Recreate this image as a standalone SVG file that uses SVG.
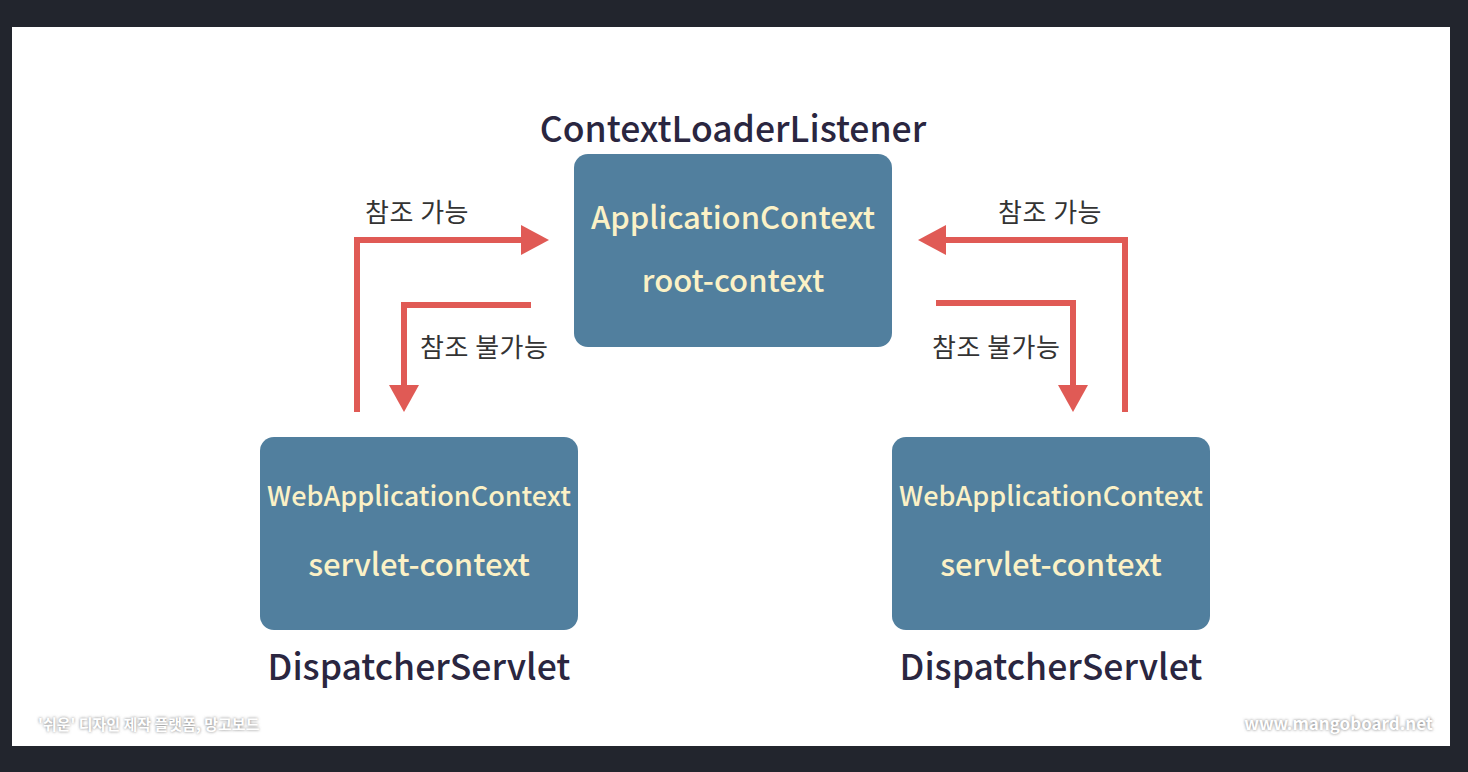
<svg xmlns="http://www.w3.org/2000/svg" width="1468" height="772" viewBox="0 0 1468 772">
<defs>
<style>
.box{fill:#517f9e}
.in{fill:#fbf1c6;font-family:"Noto Sans CJK KR","Noto Sans",sans-serif;font-weight:500;text-anchor:middle}
.lbl{fill:#2a2640;font-family:"Noto Sans CJK KR","Noto Sans",sans-serif;font-weight:500;font-size:35.5px;text-anchor:middle}
.ref{fill:#333;font-family:"Noto Sans CJK KR",sans-serif;font-size:26px;letter-spacing:0.5px}
.ln{fill:none;stroke:#e05a55;stroke-width:6}
.hd{fill:#e05a55}
.wm{font-family:"Noto Sans CJK KR",sans-serif;font-weight:700}
</style>
<filter id="blur" x="-10%" y="-50%" width="120%" height="200%"><feGaussianBlur stdDeviation="1.5"/></filter>
</defs>
<rect width="1468" height="772" fill="#22252d"/>
<rect x="12" y="27" width="1438" height="719" fill="#ffffff"/>
<g id="root">
<rect class="box" x="574" y="154" width="318" height="193" rx="14"/>
<text class="lbl" x="733" y="142">ContextLoaderListener</text>
<text class="in" x="733" y="229" font-size="31">ApplicationContext</text>
<text class="in" x="733" y="292" font-size="31">root-context</text>
</g>
<g id="servlet-left">
<rect class="box" x="260" y="437" width="318" height="193" rx="14"/>
<text class="in" x="419" y="506" font-size="27">WebApplicationContext</text>
<text class="in" x="419" y="576" font-size="31">servlet-context</text>
<text class="lbl" x="419" y="680">DispatcherServlet</text>
</g>
<g id="servlet-right">
<rect class="box" x="892" y="437" width="318" height="193" rx="14"/>
<text class="in" x="1051" y="506" font-size="27">WebApplicationContext</text>
<text class="in" x="1051" y="576" font-size="31">servlet-context</text>
<text class="lbl" x="1051" y="680">DispatcherServlet</text>
</g>
<g id="connectors">
<polyline class="ln" points="357,412 357,240 523,240"/>
<polygon class="hd" points="521,225 549,240 521,255"/>
<polyline class="ln" points="531,305 404,305 404,387"/>
<polygon class="hd" points="389,385 404,412 419,385"/>
<polyline class="ln" points="1125,412 1125,240 943,240"/>
<polygon class="hd" points="946,225 918,240 946,255"/>
<polyline class="ln" points="936,303 1073,303 1073,387"/>
<polygon class="hd" points="1058,385 1073,412 1088,385"/>
<text class="ref" x="365" y="222">참조 가능</text>
<text class="ref" x="420" y="357">참조 불가능</text>
<text class="ref" x="998" y="222">참조 가능</text>
<text class="ref" x="932" y="357">참조 불가능</text>
</g>
<g id="watermarks">
<text class="wm" x="38" y="730" font-size="15" fill="#777" filter="url(#blur)">'쉬운' 디자인 제작 플랫폼, 망고보드</text>
<text class="wm" x="38" y="730" font-size="15" fill="#fff">'쉬운' 디자인 제작 플랫폼, 망고보드</text>
<text class="wm" x="1433" y="730" font-size="17" fill="#777" text-anchor="end" filter="url(#blur)">www.mangoboard.net</text>
<text class="wm" x="1433" y="730" font-size="17" fill="#fff" text-anchor="end">www.mangoboard.net</text>
</g>
</svg>
